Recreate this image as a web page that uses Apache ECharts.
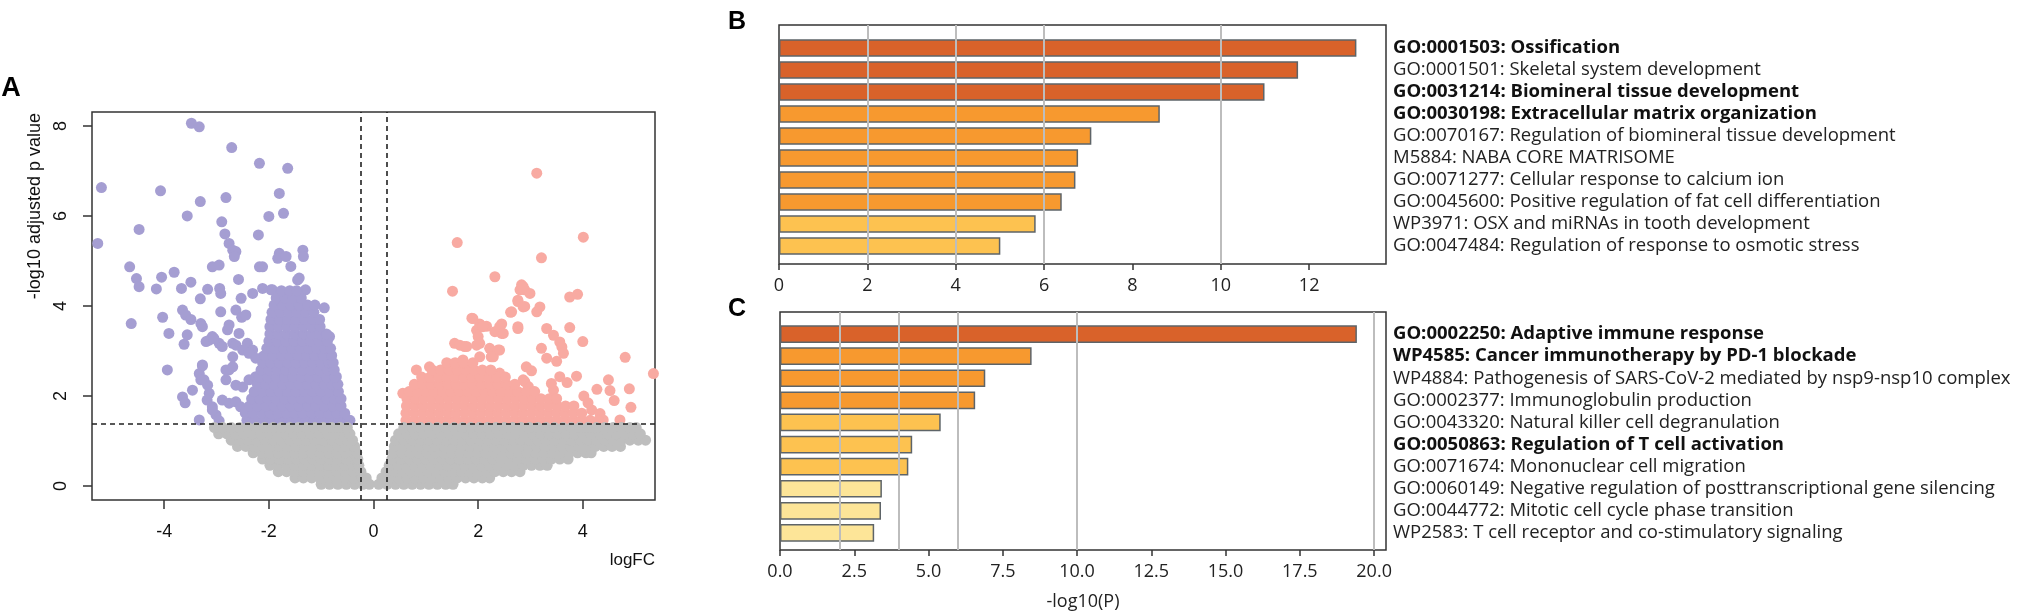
<!DOCTYPE html>
<html>
<head>
<meta charset="utf-8">
<script src="https://cdn.jsdelivr.net/npm/echarts@6/dist/echarts.min.js"></script>
<style>
html, body { margin: 0; padding: 0; background: #fff; }
#main { width: 2031px; height: 612px; }
</style>
</head>
<body>
<div id="main"></div>
<script>
// ---------- Panel A: volcano plot (logFC, -log10 adjusted p) ----------
// scattered significant down-regulated genes
const downPoints = [
  [-3.48,8.06],[-3.33,7.98],[-2.71,7.52],[-2.18,7.17],[-1.64,7.06],[-5.2,6.63],[-5.27,5.39],[-4.07,6.56],
  [-3.31,6.32],[-2.82,6.41],[-1.8,6.5],[-1.72,6.06],[-2.0,5.99],[-3.56,6.0],[-4.48,5.7],[-2.9,5.87],
  [-2.84,5.6],[-2.2,5.58],[-2.76,5.39],[-2.69,5.24],[-2.63,5.21],[-2.66,5.1],[-1.8,5.17],[-1.83,5.06],
  [-1.67,5.1],[-1.35,5.24],[-1.34,5.1],[-3.08,4.87],[-2.95,4.91],[-2.18,4.87],[-2.12,4.87],[-4.66,4.87],
  [-4.53,4.61],[-4.48,4.43],[-4.05,4.64],[-3.81,4.75],[-3.49,4.53],[-3.67,4.39],[-4.15,4.38],[-3.31,4.16],
  [-3.17,4.37],[-2.94,4.39],[-2.92,4.28],[-2.58,4.59],[-2.53,4.17],[-2.31,4.28],[-2.12,4.39],[-1.96,4.36],
  [-1.58,4.88],[-1.45,4.58],[-1.42,4.62],[-1.3,4.36],[-0.94,3.96],[-0.84,3.32],[-0.71,2.43],[-1.93,4.36],
  [-3.65,3.91],[-3.59,3.8],[-3.49,3.7],[-4.03,3.75],[-4.63,3.61],[-3.91,3.39],[-3.56,3.36],[-3.62,3.15],
  [-3.3,3.61],[-3.27,3.54],[-2.92,3.87],[-2.63,3.91],[-2.52,3.75],[-2.44,3.8],[-2.76,3.58],[-2.79,3.47],
  [-3.94,2.58],[-3.14,3.24],[-3.08,3.32],[-2.95,3.17],[-3.27,2.67],[-3.33,2.5],[-3.24,2.36],[-3.46,2.13],
  [-3.65,1.98],[-3.14,2.06],[-3.18,1.91],[-2.69,3.17],[-2.69,2.87],[-2.76,2.58],[-2.82,2.36],[-2.57,3.39],
  [-2.41,3.17],[-2.31,3.02],[-2.12,2.87],[-3.33,1.47],[-3.2,3.21],[-3.05,3.28],[-2.89,3.1],[-2.63,3.13],
  [-2.5,3.02],[-2.38,2.95],[-2.25,2.84],[-2.82,2.58],[-2.69,2.65],[-2.63,2.24],[-2.5,2.2],[-2.38,2.36],
  [-2.25,2.43],[-2.89,1.91],[-2.76,1.84],[-2.63,1.87],[-2.54,1.76],[-3.08,1.76],[-3.01,1.58],[-3.17,2.24],
  [-3.3,2.36],[-3.27,2.69],[-2.38,1.54],[-2.95,1.45],[-3.08,1.69],[-3.6,1.85]
];
// dense core of down-regulated genes, rows of [y, x values]
const downRows = [
  [1.46, [-2.42,-2.27,-2.1,-1.95,-1.78,-1.62,-1.47,-1.3,-1.15,-0.98,-0.82,-0.66,-0.5,-0.45]],
  [1.62, [-2.45,-2.3,-2.13,-1.98,-1.82,-1.66,-1.5,-1.35,-1.18,-1.02,-0.86,-0.7,-0.55]],
  [1.78, [-2.37,-2.22,-2.06,-1.9,-1.74,-1.58,-1.43,-1.26,-1.1,-0.94,-0.78,-0.62]],
  [1.94, [-2.33,-2.17,-2.02,-1.86,-1.7,-1.54,-1.38,-1.22,-1.06,-0.9,-0.75,-0.62]],
  [2.10, [-2.28,-2.12,-1.96,-1.8,-1.64,-1.48,-1.32,-1.16,-1.0,-0.84,-0.67]],
  [2.26, [-2.22,-2.06,-1.9,-1.74,-1.58,-1.42,-1.26,-1.1,-0.94,-0.8,-0.68]],
  [2.42, [-2.18,-2.02,-1.86,-1.7,-1.54,-1.38,-1.22,-1.06,-0.9,-0.74]],
  [2.58, [-2.15,-2.0,-1.84,-1.68,-1.52,-1.36,-1.2,-1.04,-0.88,-0.75]],
  [2.74, [-2.12,-1.96,-1.8,-1.64,-1.48,-1.32,-1.16,-1.0,-0.86,-0.77]],
  [2.90, [-2.08,-1.92,-1.76,-1.6,-1.44,-1.28,-1.12,-0.96,-0.8]],
  [3.06, [-2.04,-1.88,-1.72,-1.56,-1.4,-1.24,-1.08,-0.93,-0.82]],
  [3.22, [-2.0,-1.84,-1.68,-1.52,-1.36,-1.2,-1.04,-0.88]],
  [3.38, [-1.98,-1.82,-1.66,-1.5,-1.34,-1.18,-1.03,-0.9]],
  [3.54, [-1.98,-1.82,-1.66,-1.5,-1.34,-1.18,-1.02]],
  [3.70, [-1.96,-1.8,-1.64,-1.48,-1.32,-1.16,-1.03]],
  [3.86, [-1.94,-1.78,-1.62,-1.46,-1.3,-1.14]],
  [4.02, [-1.9,-1.74,-1.58,-1.42,-1.26,-1.12]],
  [4.18, [-1.86,-1.7,-1.54,-1.38]],
  [4.34, [-1.76,-1.6,-1.47]]
];
// scattered significant up-regulated genes
const upPoints = [
  [3.12,6.95],[4.01,5.53],[1.6,5.41],[3.21,5.07],[2.32,4.65],[1.51,4.33],[2.83,4.47],[2.89,4.36],
  [2.8,4.36],[2.99,4.28],[3.75,4.2],[3.9,4.26],[3.18,3.98],[3.12,3.87],[2.76,4.1],[2.89,3.99],
  [2.62,3.86],[1.88,3.73],[2.03,3.6],[2.16,3.55],[2.45,3.6],[2.32,3.43],[2.45,3.39],[2.76,3.5],
  [3.31,3.5],[3.44,3.35],[3.56,3.2],[3.75,3.52],[4.0,3.21],[1.97,3.46],[2.0,3.32],[2.03,3.17],
  [1.55,3.17],[1.74,3.1],[1.65,3.13],[2.22,3.06],[2.38,3.02],[2.25,2.87],[3.21,3.06],[3.31,2.84],
  [3.5,2.77],[3.6,3.09],[3.63,2.95],[4.81,2.86],[3.02,2.56],[3.56,2.43],[3.88,2.44],[4.49,2.36],
  [4.27,2.15],[4.52,2.12],[4.89,2.16],[4.02,2.0],[4.92,1.75],[4.71,1.47],[4.17,1.69],[4.33,1.61],
  [4.39,1.47],[3.44,2.13],[3.4,2.28],[2.89,2.32],[2.96,2.21],[5.35,2.5],[2.86,4.43],[2.76,4.13],
  [2.86,3.98],[2.64,3.87],[1.9,3.72],[2.09,3.54],[2.41,3.54],[2.48,3.39],[2.76,3.54],[1.78,3.1],
  [1.97,3.13],[2.29,2.87],[2.41,3.02],[1.71,2.8],[1.65,2.58],[1.84,2.65],[2.03,2.87],[0.82,2.58],
  [1.07,2.65],[0.56,2.06],[0.94,2.36],[1.97,2.36],[2.16,2.51],[2.41,2.51],[2.86,2.36],[2.92,2.65],
  [4.6,1.9],[4.1,1.85],[3.7,2.3]
];
const upRows = [
  [1.46, [0.62,0.78,0.94,1.1,1.26,1.42,1.58,1.74,1.9,2.06,2.22,2.38,2.54,2.7,2.86,3.02,3.18,3.34,3.5,3.66,3.82,3.98,4.14,4.3]],
  [1.62, [0.62,0.78,0.94,1.1,1.26,1.42,1.58,1.74,1.9,2.06,2.22,2.38,2.54,2.7,2.86,3.02,3.18,3.34,3.5,3.66,3.82,3.98]],
  [1.78, [0.63,0.79,0.95,1.11,1.27,1.43,1.59,1.75,1.91,2.07,2.23,2.39,2.55,2.71,2.87,3.03,3.19,3.35,3.51,3.67,3.83]],
  [1.94, [0.64,0.8,0.96,1.12,1.28,1.44,1.6,1.76,1.92,2.08,2.24,2.4,2.56,2.72,2.88,3.04,3.2,3.36,3.5]],
  [2.10, [0.68,0.84,1.0,1.16,1.32,1.48,1.64,1.8,1.96,2.12,2.28,2.44,2.6,2.76,2.92,3.08]],
  [2.26, [0.78,0.94,1.1,1.26,1.42,1.58,1.74,1.9,2.06,2.22,2.38,2.54,2.7]],
  [2.42, [0.92,1.08,1.24,1.4,1.56,1.72,1.88,2.04,2.2,2.36,2.52]],
  [2.58, [1.12,1.28,1.44,1.6,1.76,1.92,2.08,2.24]],
  [2.74, [1.4,1.56,1.72,1.9]]
];
// non-significant genes, rows of [y, x values]
const nsRows = [
  [0.04, [-1.0,-0.84,-0.68,-0.52,-0.36,-0.2,-0.08, 0.1,0.26,0.42,0.58,0.74,0.9,1.06,1.22,1.38,1.52]],
  [0.18, [-1.5,-1.34,-1.18,-1.02,-0.86,-0.7,-0.54,-0.38,-0.22,-0.14,
          0.16,0.32,0.48,0.64,0.8,0.96,1.12,1.28,1.44,1.6,1.76,1.92,2.08,2.22]],
  [0.32, [-1.82,-1.66,-1.5,-1.34,-1.18,-1.02,-0.86,-0.7,-0.54,-0.38,-0.24,
          0.24,0.4,0.56,0.72,0.88,1.04,1.2,1.36,1.52,1.68,1.84,2.0,2.16,2.32,2.48,2.64,2.8]],
  [0.46, [-1.98,-1.82,-1.66,-1.5,-1.34,-1.18,-1.02,-0.86,-0.7,-0.54,-0.4,-0.28,
          0.3,0.46,0.62,0.78,0.94,1.1,1.26,1.42,1.58,1.74,1.9,2.06,2.22,2.38,2.54,2.7,2.86,3.02,3.18,3.32]],
  [0.60, [-2.12,-1.96,-1.8,-1.64,-1.48,-1.32,-1.16,-1.0,-0.84,-0.68,-0.52,-0.36,-0.3,
          0.35,0.52,0.68,0.84,1.0,1.16,1.32,1.48,1.64,1.8,1.96,2.12,2.28,2.44,2.6,2.76,2.92,3.08,3.24,3.4,3.56,3.72]],
  [0.74, [-2.3,-2.14,-1.98,-1.82,-1.66,-1.5,-1.34,-1.18,-1.02,-0.86,-0.7,-0.54,-0.38,-0.32,
          0.38,0.54,0.7,0.86,1.02,1.18,1.34,1.5,1.66,1.82,1.98,2.14,2.3,2.46,2.62,2.78,2.94,3.1,3.26,3.42,3.58,3.74,3.9,4.06,4.16]],
  [0.88, [-2.6,-2.44,-2.28,-2.12,-1.96,-1.8,-1.64,-1.48,-1.32,-1.16,-1.0,-0.84,-0.68,-0.52,-0.36,
          0.4,0.56,0.72,0.88,1.04,1.2,1.36,1.52,1.68,1.84,2.0,2.16,2.32,2.48,2.64,2.8,2.96,3.12,3.28,3.44,3.6,3.76,3.92,4.08,4.24,4.4,4.56,4.72]],
  [1.02, [-2.72,-2.56,-2.4,-2.24,-2.08,-1.92,-1.76,-1.6,-1.44,-1.28,-1.12,-0.96,-0.8,-0.64,-0.5,-0.4,
          0.42,0.58,0.74,0.9,1.06,1.22,1.38,1.54,1.7,1.86,2.02,2.18,2.34,2.5,2.66,2.82,2.98,3.14,3.3,3.46,3.62,3.78,3.94,4.1,4.26,4.42,4.58,4.74,4.9,5.06,5.2]],
  [1.16, [-2.96,-2.8,-2.64,-2.48,-2.32,-2.16,-2.0,-1.84,-1.68,-1.52,-1.36,-1.2,-1.04,-0.88,-0.72,-0.56,-0.45,
          0.48,0.64,0.8,0.96,1.12,1.28,1.44,1.6,1.76,1.92,2.08,2.24,2.4,2.56,2.72,2.88,3.04,3.2,3.36,3.52,3.68,3.84,4.0,4.16,4.32,4.48,4.64,4.8,4.96,5.1]],
  [1.30, [-3.04,-2.88,-2.72,-2.56,-2.4,-2.24,-2.08,-1.92,-1.76,-1.6,-1.44,-1.28,-1.12,-0.96,-0.8,-0.64,-0.5,
          0.58,0.74,0.9,1.06,1.22,1.38,1.54,1.7,1.86,2.02,2.18,2.34,2.5,2.66,2.82,2.98,3.14,3.3,3.46,3.62,3.78,3.94,4.1,4.26,4.42,4.58,4.74,4.9,5.02]]
];
const fcCutoffs = [-0.25, 0.25];
const pCutoff = 1.38;
const volcanoXTicks = [-4, -2, 0, 2, 4];
const volcanoYTicks = [0, 2, 4, 6, 8];

// ---------- Panel B / C: enrichment bars ----------
const bTerms = [
  'GO:0001503: Ossification',
  'GO:0001501: Skeletal system development',
  'GO:0031214: Biomineral tissue development',
  'GO:0030198: Extracellular matrix organization',
  'GO:0070167: Regulation of biomineral tissue development',
  'M5884: NABA CORE MATRISOME',
  'GO:0071277: Cellular response to calcium ion',
  'GO:0045600: Positive regulation of fat cell differentiation',
  'WP3971: OSX and miRNAs in tooth development',
  'GO:0047484: Regulation of response to osmotic stress'
];
const bValues = [13.07, 11.75, 10.99, 8.62, 7.07, 6.77, 6.71, 6.40, 5.81, 5.01];
const bBold = [1, 0, 1, 1, 0, 0, 0, 0, 0, 0];
const bTicks = [0, 2, 4, 6, 8, 10, 12];
const bGuides = [2, 4, 6, 10];

const cTerms = [
  'GO:0002250: Adaptive immune response',
  'WP4585: Cancer immunotherapy by PD-1 blockade',
  'WP4884: Pathogenesis of SARS-CoV-2 mediated by nsp9-nsp10 complex',
  'GO:0002377: Immunoglobulin production',
  'GO:0043320: Natural killer cell degranulation',
  'GO:0050863: Regulation of T cell activation',
  'GO:0071674: Mononuclear cell migration',
  'GO:0060149: Negative regulation of posttranscriptional gene silencing',
  'GO:0044772: Mitotic cell cycle phase transition',
  'WP2583: T cell receptor and co-stimulatory signaling'
];
const cValues = [19.42, 8.47, 6.91, 6.57, 5.41, 4.45, 4.32, 3.43, 3.40, 3.17];
const cBold = [1, 1, 0, 0, 0, 1, 0, 0, 0, 0];
const cTicks = [0, 2.5, 5, 7.5, 10, 12.5, 15, 17.5, 20];
const cGuides = [2, 4, 6, 10, 20];

const rowsToPoints = rows => rows.flatMap(([y, xs]) => xs.map(x => [x, y]));

// colour by -log10(P) bin, like Metascape
function barColor(v) {
  if (v > 10) return '#D9622A';
  if (v > 6) return '#F7992F';
  if (v > 4) return '#FDC250';
  return '#FDE598';
}

const SANS = '"Liberation Sans", Arial, sans-serif';
const LABEL_FONT = '"Open Sans", "Noto Sans", sans-serif';

const chart = echarts.init(document.getElementById('main'), null, { renderer: 'canvas' });

function valueAxisForBars(grid, max, ticks, fmt) {
  return {
    type: 'value', gridIndex: grid, min: 0, max: max,
    axisLine: { show: false, onZero: false },
    axisTick: { show: true, length: 6, customValues: ticks, lineStyle: { color: '#333', width: 1.5 } },
    axisLabel: { customValues: ticks, margin: 13, fontFamily: LABEL_FONT, fontSize: 18, color: '#222', formatter: fmt },
    splitLine: { show: false }
  };
}

function termAxis(grid, terms, bold) {
  return {
    type: 'category', gridIndex: grid, data: terms, inverse: true, position: 'right',
    axisLine: { show: false }, axisTick: { show: false },
    axisLabel: {
      margin: 7, align: 'left',
      formatter: (val, idx) => (bold[idx] ? '{b|' + val + '}' : '{n|' + val + '}'),
      rich: {
        b: { fontFamily: LABEL_FONT, fontSize: 18.5, fontWeight: 'bold', color: '#111' },
        n: { fontFamily: LABEL_FONT, fontSize: 18.5, color: '#222' }
      }
    }
  };
}

function guideSeries(xi, yi, guides) {
  return {
    type: 'scatter', xAxisIndex: xi, yAxisIndex: yi, data: [], silent: true, z: 1,
    markLine: {
      silent: true, symbol: 'none', label: { show: false }, animation: false,
      lineStyle: { color: '#BDBDBD', width: 2, type: 'solid' },
      data: guides.map(g => ({ xAxis: g }))
    }
  };
}

function barSeries(xi, yi, values) {
  return {
    type: 'bar', xAxisIndex: xi, yAxisIndex: yi, z: 3,
    barCategoryGap: '20%',
    data: values.map(v => ({ value: v, itemStyle: { color: barColor(v) } })),
    itemStyle: { borderColor: '#5E6468', borderWidth: 1.5 }
  };
}

const option = {
  animation: false,
  backgroundColor: '#fff',
  grid: [
    { left: 92, top: 112, width: 563, height: 388, show: true, borderColor: '#333', borderWidth: 1.5, backgroundColor: 'transparent' },
    { left: 779, top: 25, width: 607, height: 239, show: true, borderColor: '#333', borderWidth: 1.5, backgroundColor: 'transparent' },
    { left: 779, top: 37, width: 607, height: 220 },
    { left: 780, top: 312, width: 606, height: 241, show: true, borderColor: '#333', borderWidth: 1.5, backgroundColor: 'transparent' },
    { left: 780, top: 323, width: 606, height: 221 }
  ],
  xAxis: [
    {
      type: 'value', gridIndex: 0, min: -5.38, max: 5.38,
      axisLine: { show: false, onZero: false },
      axisTick: { show: true, length: 9, customValues: volcanoXTicks, lineStyle: { color: '#333', width: 1.5 } },
      axisLabel: { customValues: volcanoXTicks, margin: 23, fontFamily: SANS, fontSize: 18, color: '#111' },
      splitLine: { show: false }
    },
    valueAxisForBars(1, 13.74, bTicks),
    { type: 'value', gridIndex: 2, min: 0, max: 13.74, show: false },
    Object.assign(valueAxisForBars(3, 20.4, cTicks, v => v.toFixed(1)), {
      name: '-log10(P)', nameLocation: 'middle', nameGap: 43,
      nameTextStyle: { fontFamily: LABEL_FONT, fontSize: 18, color: '#222' }
    }),
    { type: 'value', gridIndex: 4, min: 0, max: 20.4, show: false }
  ],
  yAxis: [
    {
      type: 'value', gridIndex: 0, min: -0.31, max: 8.31,
      axisLine: { show: false, onZero: false },
      axisTick: { show: true, length: 9, customValues: volcanoYTicks, lineStyle: { color: '#333', width: 1.5 } },
      axisLabel: { customValues: volcanoYTicks, rotate: 90, margin: 22, fontFamily: SANS, fontSize: 18, color: '#111' },
      splitLine: { show: false }
    },
    { type: 'value', gridIndex: 1, min: 0, max: 1, show: false },
    termAxis(2, bTerms, bBold),
    { type: 'value', gridIndex: 3, min: 0, max: 1, show: false },
    termAxis(4, cTerms, cBold)
  ],
  series: [
    {
      type: 'scatter', xAxisIndex: 0, yAxisIndex: 0, symbolSize: 11, silent: true, clip: true,
      itemStyle: { color: '#A59ED2', opacity: 1 },
      data: downPoints.concat(rowsToPoints(downRows))
    },
    {
      type: 'scatter', xAxisIndex: 0, yAxisIndex: 0, symbolSize: 11, silent: true, clip: true,
      itemStyle: { color: '#F8AAA2', opacity: 1 },
      data: upPoints.concat(rowsToPoints(upRows))
    },
    {
      type: 'scatter', xAxisIndex: 0, yAxisIndex: 0, symbolSize: 11, silent: true, clip: true,
      itemStyle: { color: '#BEBEBE', opacity: 1 },
      data: rowsToPoints(nsRows)
    },
    {
      type: 'scatter', xAxisIndex: 0, yAxisIndex: 0, data: [], silent: true, z: 5,
      markLine: {
        silent: true, symbol: 'none', label: { show: false }, animation: false,
        lineStyle: { color: '#222', width: 1.6, type: [5, 4] },
        data: fcCutoffs.map(v => ({ xAxis: v })).concat([{ yAxis: pCutoff }])
      }
    },
    guideSeries(1, 1, bGuides),
    barSeries(2, 2, bValues),
    guideSeries(3, 3, cGuides),
    barSeries(4, 4, cValues)
  ],
  graphic: [
    { type: 'text', x: 11, y: 89, style: { text: 'A', font: 'bold 27px ' + SANS, fill: '#000', align: 'center', verticalAlign: 'middle' } },
    { type: 'text', x: 737, y: 22, style: { text: 'B', font: 'bold 25px ' + SANS, fill: '#000', align: 'center', verticalAlign: 'middle' } },
    { type: 'text', x: 737, y: 309, style: { text: 'C', font: 'bold 25px ' + SANS, fill: '#000', align: 'center', verticalAlign: 'middle' } },
    {
      type: 'text', x: 35, y: 113, rotation: Math.PI / 2,
      style: { text: '-log10 adjusted p value', font: '18px ' + SANS, fill: '#111', align: 'right', verticalAlign: 'middle' }
    },
    { type: 'text', x: 655, y: 560, style: { text: 'logFC', font: '17px ' + SANS, fill: '#111', align: 'right', verticalAlign: 'middle' } }
  ]
};

chart.setOption(option);
</script>
</body>
</html>
